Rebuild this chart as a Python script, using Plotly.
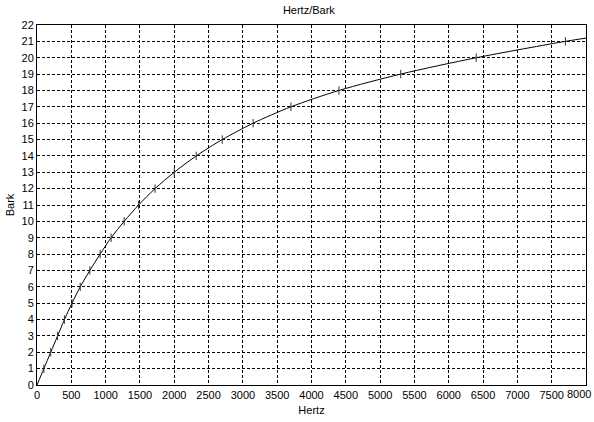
import plotly.graph_objects as go

hertz = [0, 100, 200, 300, 400, 510, 630, 770, 920, 1080, 1270, 1480, 1720,
         2000, 2320, 2700, 3150, 3700, 4400, 5300, 6400, 7700, 8000]
bark = [0, 1, 2, 3, 4, 5, 6, 7, 8, 9, 10, 11, 12, 13, 14, 15, 16, 17, 18, 19,
        20, 21, 21.2]
marker_hz = hertz[1:-1]
marker_bark = bark[1:-1]

x_ticks = list(range(0, 8001, 500))
y_ticks = list(range(0, 23))

fig = go.Figure()
fig.add_trace(go.Scatter(x=hertz, y=bark, mode="lines",
                         line=dict(color="black", width=1, shape="spline", smoothing=0.8),
                         showlegend=False, hoverinfo="skip"))
fig.add_trace(go.Scatter(x=marker_hz, y=marker_bark, mode="markers",
                         marker=dict(symbol="line-ns", size=6,
                                     line=dict(color="#333333", width=1)),
                         showlegend=False))

font = dict(family="Liberation Sans, Arial, sans-serif", size=11, color="black")
axis_common = dict(showline=True, linecolor="black", linewidth=1, mirror=True,
                   showgrid=True, gridcolor="black", gridwidth=1,
                   griddash="3px,2px", zeroline=False, ticks="", tickfont=font)

fig.update_layout(
    width=594, height=422,
    margin=dict(l=37, r=8, t=25, b=37),
    paper_bgcolor="white", plot_bgcolor="white",
    font=font,
    title=dict(text="Hertz/Bark", x=0.52, xanchor="center", y=0.985, yanchor="top",
               font=dict(family="Liberation Sans, Arial, sans-serif", size=11)),
    xaxis=dict(range=[0, 8000], tickvals=x_ticks[:-1], ticktext=[str(v) for v in x_ticks[:-1]],
               title=dict(text="Hertz", standoff=6, font=font), **axis_common),
    yaxis=dict(range=[0, 22], tickvals=y_ticks, ticktext=[str(v) for v in y_ticks],
               title=dict(text="Bark", standoff=4, font=font), **axis_common),
)
fig.add_annotation(x=x_ticks[-1], y=0, xref="x", yref="paper", yanchor="top",
                   xanchor="right", xshift=7, yshift=-1, text=str(x_ticks[-1]),
                   showarrow=False, font=font)
fig.write_html("out.html")
